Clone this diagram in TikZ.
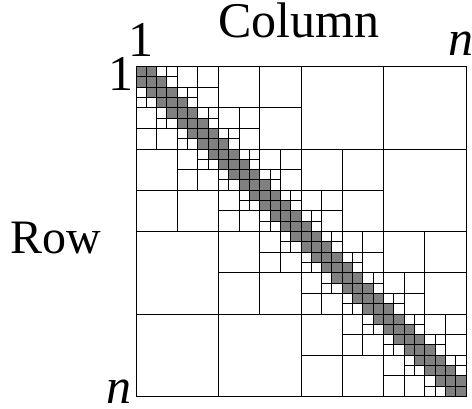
\documentclass[tikz,border=0pt]{standalone}
\usepackage{fontspec}
\setmainfont{Liberation Serif}
\begin{document}
\begin{tikzpicture}[x=1pt,y=-1pt,
  lbl/.style={font=\fontsize{50}{60}\selectfont, anchor=base, inner sep=0pt, text height=0.69em, text depth=0pt},
  blk/.style={draw=black, line width=0.9pt},
  diag/.style={fill=black!50}]
\useasboundingbox (0,0) rectangle (472,408);
\def\X{136}\def\Y{66.5}\def\C{10.3125}
% shaded near-diagonal cells
\foreach \i in {0,...,31}{
  \fill[diag] (\X+\i*\C, \Y+\i*\C) rectangle ++(\C,\C);
}
\foreach \i in {0,...,30}{
  \fill[diag] (\X+\i*\C+\C, \Y+\i*\C) rectangle ++(\C,\C);
  \fill[diag] (\X+\i*\C, \Y+\i*\C+\C) rectangle ++(\C,\C);
}
% hierarchical block partition
\foreach \s/\n in {32/1,16/2,8/4,4/8,2/16,1/32}{
  \pgfmathtruncatemacro\m{\n-1}
  \foreach \p in {0,...,\m}{
    \foreach \q in {0,...,\m}{
      \pgfmathtruncatemacro\d{abs(floor(\p/2)-floor(\q/2))}
      \ifnum\d<2
        \draw[blk] (\X+\p*\s*\C, \Y+\q*\s*\C) rectangle ++(\s*\C,\s*\C);
      \fi
    }
  }
}
% labels
\node[lbl] (col) at (299,37) {Column};
\node[lbl] (onetop) at (140.5,56) {1};
\node[lbl] (ntop) at (461,55) {\textit{n}};
\node[lbl] (oneleft) at (120.5,90) {1};
\node[lbl, font=\fontsize{48}{58}\selectfont] (row) at (56,253) {Row};
\node[lbl] (nleft) at (118.5,403) {\textit{n}};
\end{tikzpicture}
\end{document}
